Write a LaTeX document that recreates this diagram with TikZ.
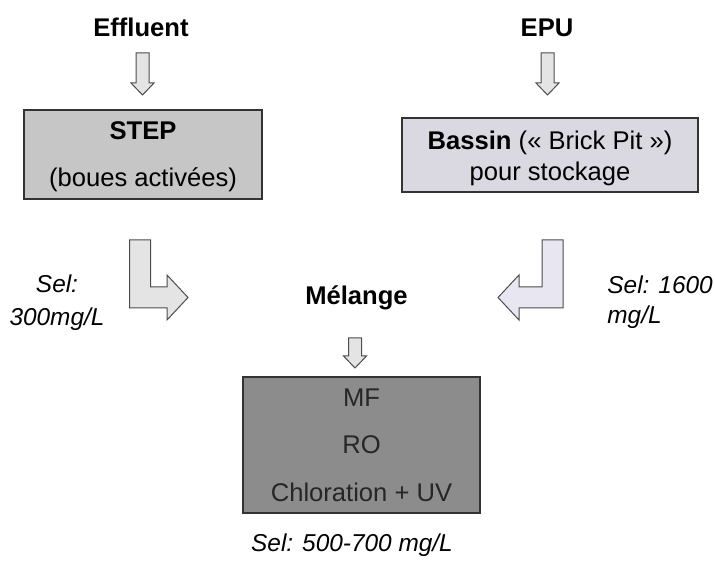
\documentclass[tikz,border=0pt]{standalone}
\usepackage{fontspec}
\setmainfont{Liberation Sans}
\usetikzlibrary{positioning,calc}
\definecolor{stepgray}{RGB}{198,198,198}
\definecolor{bassinlav}{RGB}{218,217,226}
\definecolor{darkgray}{RGB}{140,140,140}
\definecolor{arrowgray}{RGB}{228,228,228}
\definecolor{arrowlav}{RGB}{232,230,240}

% block arrow going straight down, from #1 to tip #2
\newcommand{\flowdown}[2]{%
  \draw[flowarrow] let \p1=(#1), \p2=(#2) in
    (\x1-3.25pt,\y1) -- (\x1+3.25pt,\y1) -- (\x1+3.25pt,\y2+6pt) -- (\x1+5.75pt,\y2+6pt)
    -- (\x1,\y2) -- (\x1-5.75pt,\y2+6pt) -- (\x1-3.25pt,\y2+6pt) -- cycle;}
% block arrow going down then sideways (#4 = 1 right, -1 left)
\newcommand{\flowturn}[4][arrowgray]{%
  \draw[flowarrow,fill=#1] let \p1=(#2), \p2=(#3) in
    ({\x1-(#4)*5.25pt},\y1) -- ({\x1+(#4)*5.25pt},\y1) -- ({\x1+(#4)*5.25pt},\y2+5.25pt)
    -- ({\x2-(#4)*10.5pt},\y2+5.25pt) -- ({\x2-(#4)*10.5pt},\y2+11.25pt) -- (\x2,\y2)
    -- ({\x2-(#4)*10.5pt},\y2-11.25pt) -- ({\x2-(#4)*10.5pt},\y2-5.25pt)
    -- ({\x1-(#4)*5.25pt},\y2-5.25pt) -- cycle;}

\begin{document}
\begin{tikzpicture}[x=0.5pt,y=-0.5pt,inner sep=0pt,
    heading/.style={font=\fontsize{12.8}{15.5}\selectfont\bfseries},
    salt/.style={font=\fontsize{12.2}{15}\selectfont\itshape},
    stagebox/.style={draw=black!80,line width=0.6pt,align=center,font=\fontsize{12.8}{15.5}\selectfont},
    flowarrow/.style={draw=black!70,line width=0.5pt,fill=arrowgray}]
  \useasboundingbox (0,0) rectangle (715,565);
  \node [heading] (effluent) at (141,27) {Effluent};
  \node [heading] (epu) at (547,28) {EPU};
  \node [stagebox,fill=stepgray,minimum width=119pt,minimum height=44.5pt] (step) at (143,154.5)
    {\rule{0pt}{11pt}\textbf{STEP}\\[8pt](boues activées)};
  \node [stagebox,fill=bassinlav,minimum width=148pt,minimum height=37pt] (bassin) at (550,155)
    {\rule{0pt}{12.5pt}\textbf{Bassin} («~Brick Pit~»)\\[0pt]pour stockage};
  \node [heading] (melange) at (356.5,298) {Mélange};
  \node [stagebox,fill=darkgray,text=black!85,minimum width=118.5pt,minimum height=68pt] (traitement) at (361.5,445)
    {MF\\[8pt]RO\\[8.5pt]Chloration + UV};
  \node [salt,align=center] (sel1) at (57,303) {Sel:\\[1.5pt]300mg/L};
  \node [salt,align=left,anchor=west] (sel2) at (607,302) {Sel: 1600\\mg/L};
  \node [salt] (sel3) at (352,545) {Sel: 500-700 mg/L};
  % arrow ends
  \coordinate (effin) at (142.5,53);   \coordinate (effout) at (142.5,95);
  \coordinate (epuin) at (547.5,53);   \coordinate (epuout) at (547.5,95);
  \coordinate (mixin) at (355,338);    \coordinate (mixout) at (355,368);
  \coordinate (stepout) at (140,240);  \coordinate (stepmix) at (188,297.5);
  \coordinate (bassinout) at (552.5,240); \coordinate (bassinmix) at (498,297.5);
  \flowdown{effin}{effout}
  \flowdown{epuin}{epuout}
  \flowdown{mixin}{mixout}
  \flowturn{stepout}{stepmix}{1}
  \flowturn[arrowlav]{bassinout}{bassinmix}{-1}
\end{tikzpicture}
\end{document}
